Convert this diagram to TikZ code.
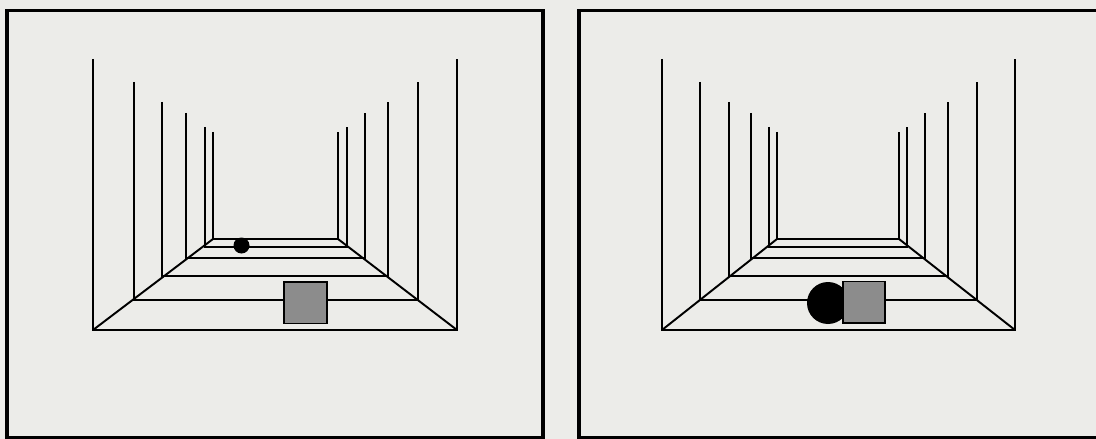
\documentclass[tikz,border=0pt]{standalone}
\usetikzlibrary{positioning}
\definecolor{paper}{RGB}{236,236,233}
\definecolor{boxgray}{RGB}{140,140,140}
\tikzset{
  frame/.style={line width=1.9pt},
  wall/.style={line width=1.1pt, line join=miter},
  ball/.style={fill=black},
  block/.style={fill=boxgray, draw=black, line width=0.6pt}
}
\begin{document}
\begin{tikzpicture}[x=0.02cm, y=-0.02cm]
\clip (0,0) rectangle (1096,439);
\fill[paper] (0,0) rectangle (1096,439);

% panel frames
\draw[frame] (7,10.5) rectangle (543,438);
\draw[frame] (579,10.5) rectangle (1110,438);

% left corridor
\foreach \xl/\xr/\yt/\yf in {93/457/59/330, 134/418/82/300, 162/388/102/276,
                             186/365/113/258, 205/347/127/247, 213/338/132/239}
  \draw[wall] (\xl,\yt) -- (\xl,\yf) -- (\xr,\yf) -- (\xr,\yt);
\draw[wall] (93,330) -- (213,239);
\draw[wall] (457,330) -- (338,239);

% right corridor
\foreach \xl/\xr/\yt/\yf in {662/1015/59/330, 700/977/82/300, 729/948/102/276,
                             751/925/113/258, 769/907/127/247, 777/899/132/239}
  \draw[wall] (\xl,\yt) -- (\xl,\yf) -- (\xr,\yf) -- (\xr,\yt);
\draw[wall] (662,330) -- (777,239);
\draw[wall] (1015,330) -- (899,239);

% objects
\fill[ball] (241.5,245.5) circle (8);
\draw[block] (284,282) rectangle (327,323.5);

\fill[ball] (828,303) circle (21);
\draw[block] (843,281.5) rectangle (885,323);
\end{tikzpicture}
\end{document}
